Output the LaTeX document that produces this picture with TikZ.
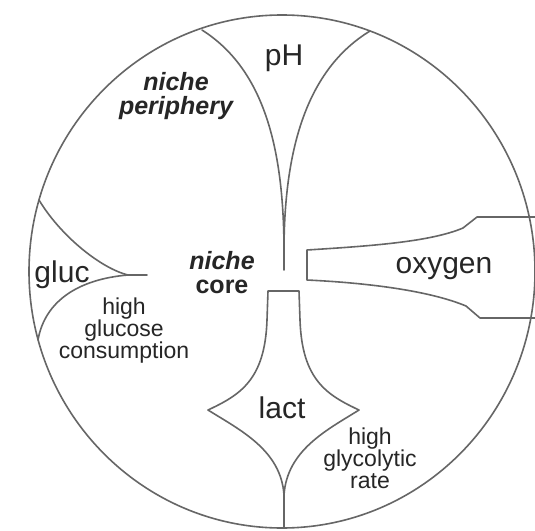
\documentclass[tikz,border=0pt]{standalone}
\usepackage{fontspec}
\setmainfont{Liberation Sans}

\begin{document}
\begin{tikzpicture}[x=1pt,y=-1pt,line width=1.6pt,line join=round,line cap=round,
  rim/.style={draw=black!60},
  bigtxt/.style={font=\fontsize{30}{30}\selectfont,text=black!85,inner sep=0pt,anchor=base},
  smalltxt/.style={font=\fontsize{23}{22}\selectfont,text=black!85,inner sep=0pt,align=center,anchor=base},
  nichetxt/.style={font=\fontsize{25}{24}\selectfont\bfseries\itshape,text=black!85,inner sep=0pt,align=center,anchor=base}]
\useasboundingbox (0,0) rectangle (535,530);
\fill[white] (0,0) rectangle (535,530);
\draw[rim] (282,271.5) ellipse [x radius=253, y radius=256.5];
% pH wedge
\draw[rim] (202,30) .. controls (265,70) and (283,150) .. (284,245) -- (284,270);
\draw[rim] (370,31) .. controls (306,70) and (285,150) .. (284,245);
% glucose wedge
\draw[rim] (39,200) .. controls (60,235) and (100,268) .. (128,275) -- (147,275);
\draw[rim] (38,340) .. controls (45,300) and (80,279) .. (128,275);
% oxygen channel
\draw[rim] (537,217) -- (477,217) -- (463,228) .. controls (430,242) and (370,246) .. (307,250)
  -- (307,280) .. controls (370,283) and (430,291) .. (466,306) -- (480,318) -- (537,318);
% lactate star
\draw[rim] (268,291) -- (299,291) -- (300,320) .. controls (302,380) and (327,395) .. (359,410)
  .. controls (327,430) and (287,450) .. (284,495)
  .. controls (281,450) and (240,430) .. (208,410)
  .. controls (240,395) and (265,380) .. (267,320) -- cycle;
\draw[rim] (284,495) -- (284,528);
\node[bigtxt] (ph) at (284,65) {pH};
\node[nichetxt] (periph) at (176,114) {niche\\periphery};
\node[nichetxt] (core) at (222,293) {niche\\\upshape core};
\node[bigtxt] (gluc) at (62,282) {gluc};
\node[smalltxt] (gluccons) at (124,358) {high\\glucose\\consumption};
\node[bigtxt] (lact) at (282,418) {lact};
\node[smalltxt] (glyco) at (370,488) {high\\glycolytic\\rate};
\node[bigtxt] (oxy) at (444,273) {oxygen};
\end{tikzpicture}
\end{document}
